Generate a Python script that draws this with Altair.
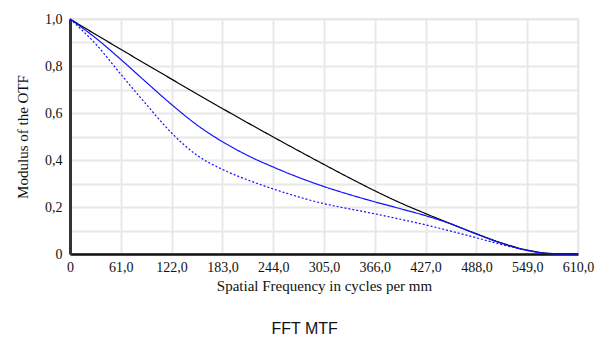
import altair as alt
import pandas as pd

freq = [0, 30.5, 61, 91.5, 122, 152.5, 183, 213.5, 244, 274.5, 305, 335.5,
        366, 396.5, 427, 457.5, 488, 518.5, 549, 579.5, 610]
diffraction = [1.0, 0.935, 0.871, 0.807, 0.744, 0.681, 0.619, 0.558, 0.498, 0.439,
               0.381, 0.324, 0.269, 0.218, 0.172, 0.128, 0.086, 0.047, 0.017, 0.002, 0.0]
tangential = [1.0, 0.92, 0.828, 0.731, 0.636, 0.549, 0.478, 0.419, 0.37, 0.326,
              0.287, 0.253, 0.222, 0.193, 0.163, 0.128, 0.085, 0.045, 0.015, 0.001, 0.0]
sagittal = [1.0, 0.895, 0.765, 0.637, 0.515, 0.42, 0.36, 0.315, 0.277, 0.243,
            0.214, 0.192, 0.171, 0.148, 0.124, 0.097, 0.069, 0.04, 0.016, 0.001, 0.0]

series_names = ["Diffraction limit", "Tangential", "Sagittal"]
rows = []
for name, vals in zip(series_names, [diffraction, tangential, sagittal]):
    for f, v in zip(freq, vals):
        rows.append({"freq": f, "mtf": v, "series": name})
df = pd.DataFrame(rows)

x_ticks = [0, 61, 122, 183, 244, 305, 366, 427, 488, 549, 610]
y_ticks = [0, 0.1, 0.2, 0.3, 0.4, 0.5, 0.6, 0.7, 0.8, 0.9, 1.0]

serif = "Liberation Serif"

lines = alt.Chart(df).mark_line(strokeWidth=1.2, interpolate="monotone").encode(
    x=alt.X("freq:Q", scale=alt.Scale(domain=[0, 610], nice=False),
            axis=alt.Axis(values=x_ticks, title="Spatial Frequency in cycles per mm",
                          labelExpr="datum.value == 0 ? '0' : replace(format(datum.value, '.1f'), '.', ',')",
                          ticks=False, labelPadding=6, titlePadding=4,
                          labelFlush=False, labelOverlap=False,
                          domainColor="#111111", domainWidth=2.5,
                          gridColor="#e8e8e8", gridWidth=2,
                          labelFont=serif, labelFontSize=14, labelColor="#111",
                          titleFont=serif, titleFontSize=15, titleFontWeight="normal", titleColor="#111")),
    y=alt.Y("mtf:Q", scale=alt.Scale(domain=[0, 1], nice=False),
            axis=alt.Axis(values=y_ticks, title="Modulus of the OTF",
                          labelExpr="datum.value == 0 ? '0' : (round(datum.value * 10) % 2 == 0 ? replace(format(datum.value, '.1f'), '.', ',') : '')",
                          ticks=False, labelPadding=8, titlePadding=14,
                          labelFlush=False, labelOverlap=False,
                          domainColor="#333333", domainWidth=3,
                          gridColor="#e8e8e8", gridWidth=2,
                          labelFont=serif, labelFontSize=14, labelColor="#111",
                          titleFont=serif, titleFontSize=15, titleFontWeight="normal", titleColor="#111")),
    color=alt.Color("series:N", scale=alt.Scale(domain=series_names, range=["#000000", "#1010ff", "#1010ff"]), legend=None),
    strokeDash=alt.StrokeDash("series:N", scale=alt.Scale(domain=series_names, range=[[1, 0], [1, 0], [2, 2]]), legend=None),
    order=alt.Order("freq:Q"),
)

chart = lines.properties(
    width=508, height=235,
    autosize=alt.AutoSizeParams(type="none"),
    padding={"left": 70, "top": 19, "right": 22, "bottom": 96},
    title=alt.TitleParams("FFT MTF", orient="bottom", anchor="middle", frame="bounds",
                          font="Liberation Sans", fontSize=16, fontWeight="normal",
                          color="#111", offset=28),
).configure_view(stroke="#e8e8e8", strokeWidth=2)

chart.save("out.html", embed_options={"renderer": "svg", "actions": False})
